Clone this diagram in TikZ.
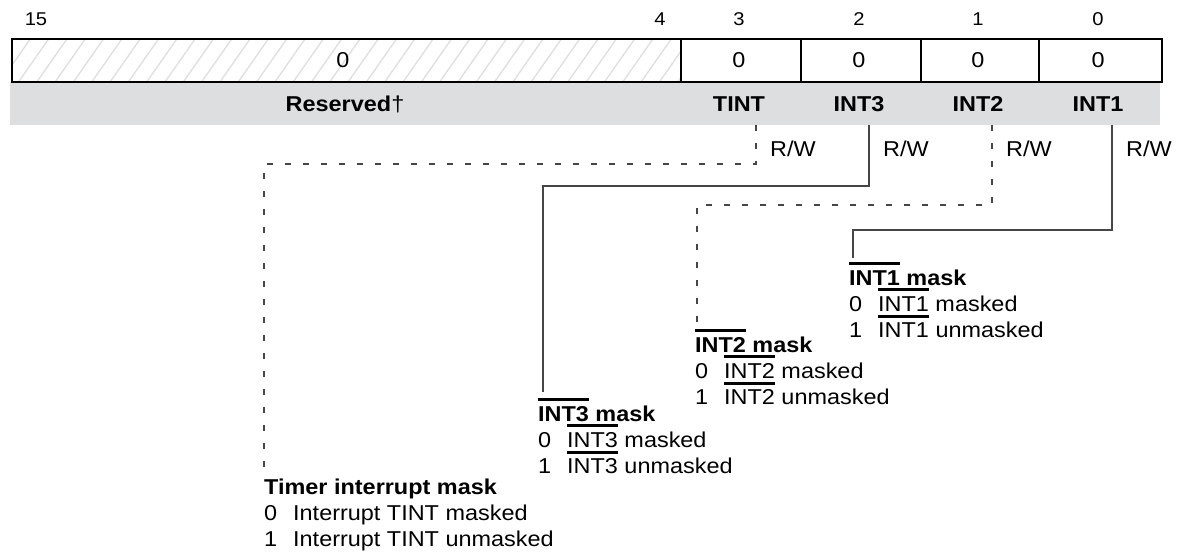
\documentclass[tikz,border=0pt]{standalone}
\usepackage{fontspec}
\setmainfont{Liberation Sans}[FakeStretch=1.09]
\usetikzlibrary{patterns.meta}

\definecolor{bandgray}{RGB}{221,222,224}
\definecolor{wiregray}{RGB}{70,70,70}

% bars over (and under) active-low signal names
\newsavebox\sigbox
\newcommand\ovbar[1]{\sbox\sigbox{\mdseries #1}\leavevmode\smash{\rlap{\rule[0.98em]{\wd\sigbox}{3pt}}}#1}
\newcommand\ovunbar[1]{\sbox\sigbox{#1}\leavevmode\smash{\rlap{\rule[0.98em]{\wd\sigbox}{3pt}}}\smash{\rlap{\rule[-0.29em]{\wd\sigbox}{3pt}}}#1}
\newcommand\bitval[1]{\makebox[29pt][l]{#1}}

\tikzset{
  bitnum/.style={anchor=base, inner sep=0pt, font=\fontsize{18.5}{21}\selectfont},
  cellval/.style={anchor=base, inner sep=0pt, font=\fontsize{21.5}{25}\selectfont},
  fieldname/.style={anchor=base, inner sep=0pt, font=\fontsize{21.5}{25}\selectfont\bfseries},
  access/.style={anchor=base west, inner sep=0pt, font=\fontsize{21.5}{25}\selectfont},
  maskblk/.style={anchor=north west, inner sep=0pt, align=left, font=\fontsize{21.5}{26}\selectfont},
  wire/.style={draw=wiregray, line width=1.3pt},
  dashwire/.style={wire, dash pattern=on 6pt off 12pt}
}

\begin{document}
\begin{tikzpicture}[x=1pt, y=-1pt]
  \useasboundingbox (0,0) rectangle (1177,553);

  % register
  \fill[bandgray] (10,82) rectangle (1160,125);
  \fill[pattern={Lines[angle=55,distance=15pt,line width=1.3pt]}, pattern color=black!13] (12,39) rectangle (681,82);
  \draw[line width=2.8pt] (12,39) rectangle (1162,82);
  \foreach \x in {681,801,921,1039}
    \draw[line width=1.8pt] (\x,39) -- (\x,82);

  % bit numbers and reset values
  \node[bitnum] (n15) at (36,26) {15};
  \node[bitnum] (n4) at (660,26) {4};
  \node[cellval] (vres) at (343,68) {0};
  \foreach \b/\x in {3/739,2/859,1/978,0/1098} {
    \node[bitnum] (n\b) at (\x,26) {\b};
    \node[cellval] (v\b) at (\x,68) {0};
  }

  % field names
  \node[fieldname] (fres) at (345,112) {Reserved{\mdseries †}};
  \node[fieldname] (ftint) at (739,112) {TINT};
  \node[fieldname] (fint3) at (859,112) {INT3};
  \node[fieldname] (fint2) at (978,112) {INT2};
  \node[fieldname] (fint1) at (1098,112) {INT1};

  \node[access] (rw3) at (770,157) {R/W};
  \node[access] (rw2) at (883,157) {R/W};
  \node[access] (rw1) at (1006,157) {R/W};
  \node[access] (rw0) at (1126,157) {R/W};

  % descriptions
  \node[maskblk] (mint1) at (849,270) {\textbf{\ovbar{INT1} mask}\\ \bitval{0}\ovunbar{INT1} masked\\ \bitval{1}INT1 unmasked};
  \node[maskblk] (mint2) at (695,337) {\textbf{\ovbar{INT2} mask}\\ \bitval{0}\ovunbar{INT2} masked\\ \bitval{1}INT2 unmasked};
  \node[maskblk] (mint3) at (538,406) {\textbf{\ovbar{INT3} mask}\\ \bitval{0}\ovunbar{INT3} masked\\ \bitval{1}INT3 unmasked};
  \node[maskblk] (mtint) at (264,479) {\textbf{Timer interrupt mask}\\ \bitval{0}Interrupt TINT masked\\ \bitval{1}Interrupt TINT unmasked};

  % leaders
  \coordinate (stint) at (756,125);
  \coordinate (sint3) at (869,125);
  \coordinate (sint2) at (992,125);
  \coordinate (sint1) at (1112,125);
  \draw[dashwire] (stint) -- ++(0,39) -| ([yshift=9pt]mtint.north west);
  \draw[wire] (sint3) -- ++(0,61) -| ([xshift=5pt,yshift=14pt]mint3.north west);
  \draw[dashwire] (sint2) -- ++(0,80) -| ([xshift=2pt,yshift=12pt]mint2.north west);
  \draw[wire] (sint1) -- ++(0,105) -| ([xshift=4pt,yshift=12pt]mint1.north west);
\end{tikzpicture}
\end{document}
